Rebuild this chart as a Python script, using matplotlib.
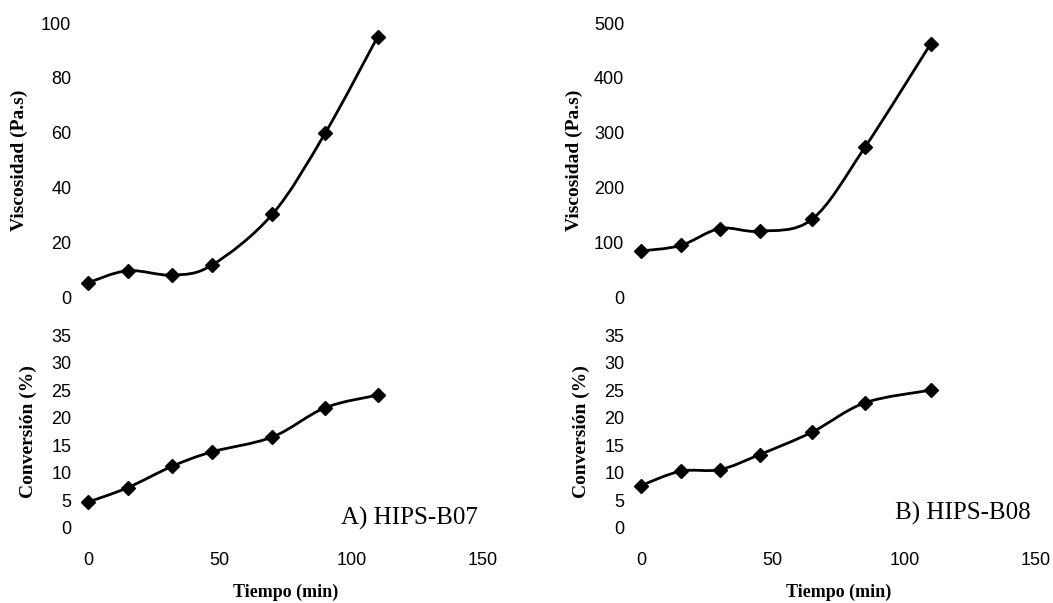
import matplotlib

matplotlib.use("Agg")

import matplotlib.pyplot as plt
import numpy as np
from matplotlib.patches import PathPatch
from matplotlib.path import Path

# HIPS-B07
time_a = [0, 15, 32, 47, 70, 90, 110]
visc_a = [5.2, 9.6, 8.0, 11.6, 30.2, 59.7, 95.0]
conv_a = [4.7, 7.3, 11.2, 13.8, 16.5, 21.8, 24.1]

# HIPS-B08
time_b = [0, 15, 30, 45, 65, 85, 110]
visc_b = [84, 94, 125, 120, 142, 273, 462]
conv_b = [7.7, 10.3, 10.6, 13.3, 17.4, 22.7, 25.0]

x_ticks = [0, 50, 100, 150]
visc_ticks_a = [0, 20, 40, 60, 80, 100]
visc_ticks_b = [0, 100, 200, 300, 400, 500]
conv_ticks = [0, 5, 10, 15, 20, 25, 30, 35]

SANS = "Liberation Sans"
SERIF = "Liberation Serif"
W, H = 1053, 603


def smooth_path(x, y):
    """Excel-style smoothed line as cubic Bezier segments through the points."""
    pts = np.column_stack([x, y]).astype(float)
    n = len(pts)
    verts, codes = [pts[0]], [Path.MOVETO]
    for i in range(n - 1):
        p0, p1 = pts[max(i - 1, 0)], pts[i]
        p2, p3 = pts[i + 1], pts[min(i + 2, n - 1)]
        verts += [p1 + (p2 - p0) / 6, p2 - (p3 - p1) / 6, p2]
        codes += [Path.CURVE4] * 3
    return Path(verts, codes)


def make_ax(fig, px_left, px_bottom, px_top, ylim, yticks, ylabel, label_px):
    width = 395
    height = px_bottom - px_top
    ax = fig.add_axes([px_left / W, 1 - px_bottom / H, width / W, height / H])
    ax.set_xlim(0, 150)
    ax.set_ylim(*ylim)
    for s in ax.spines.values():
        s.set_visible(False)
    ax.set_yticks(yticks)
    ax.set_yticklabels([str(t) for t in yticks], fontfamily=SANS, fontsize=13)
    ax.tick_params(axis="y", length=0, pad=12)
    ax.set_xticks([])
    ax.set_ylabel(ylabel, fontfamily=SERIF, fontweight="bold", fontsize=14)
    # label_px = right edge of the rotated label, in figure pixels
    ax.yaxis.set_label_coords((label_px - px_left) / width, 0.5)
    ax.patch.set_alpha(0)
    return ax


def add_time_axis(ax, px_bottom, px_top):
    # x axis sits below the plotting area, as in the original
    ax.spines["bottom"].set_position(("outward", 14))
    ax.set_xticks(x_ticks)
    ax.set_xticklabels([str(t) for t in x_ticks], fontfamily=SANS, fontsize=13)
    ax.tick_params(axis="x", length=0, pad=3)
    ax.set_xlabel("Tiempo (min)", fontfamily=SERIF, fontweight="bold", fontsize=13,
                  va="center")
    ax.xaxis.set_label_coords(198 / 395, -(592 - px_bottom) / (px_bottom - px_top))


def draw_series(ax, x, y):
    ax.add_patch(PathPatch(smooth_path(x, y), facecolor="none", edgecolor="black",
                           linewidth=2.0, clip_on=False))
    ax.plot(x, y, linestyle="none", marker="D", markersize=7, color="black",
            clip_on=False, zorder=5)


fig = plt.figure(figsize=(W / 100, H / 100), dpi=100)
fig.patch.set_facecolor("white")

panels = [
    (88, time_a, visc_a, conv_a, (0, 100), visc_ticks_a, "A) HIPS-B07", 28, 37, 518),
    (641, time_b, visc_b, conv_b, (0, 500), visc_ticks_b, "B) HIPS-B08", 583, 590, 513),
]

for px_left, t, v, c, vlim, vticks, tag, vx, cx, tag_y in panels:
    ax_v = make_ax(fig, px_left, 297, 23, vlim, vticks, "Viscosidad (Pa.s)", vx)
    draw_series(ax_v, t, v)
    ax_c = make_ax(fig, px_left, 528, 335, (0, 35), conv_ticks, "Conversión (%)", cx)
    add_time_axis(ax_c, 528, 335)
    draw_series(ax_c, t, c)
    ax_c.text(148, (528 - tag_y) / 193 * 35, tag, ha="right", va="center",
              fontfamily=SERIF, fontsize=18)

fig.savefig("out.png", dpi=100, facecolor="white")
